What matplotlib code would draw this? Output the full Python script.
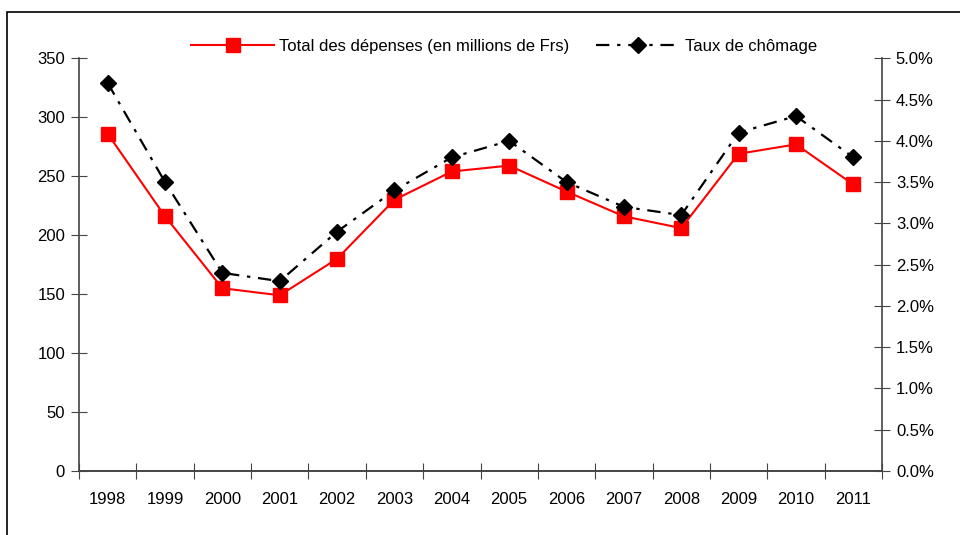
import matplotlib
matplotlib.use("Agg")
import matplotlib.pyplot as plt
from matplotlib.patches import Rectangle
from matplotlib.ticker import FuncFormatter, MultipleLocator

years = ['1998', '1999', '2000', '2001', '2002', '2003', '2004',
         '2005', '2006', '2007', '2008', '2009', '2010', '2011']
depenses = [286, 216, 155, 149, 180, 230, 254, 259, 237, 216, 206, 269, 277, 243]
chomage = [4.7, 3.5, 2.4, 2.3, 2.9, 3.4, 3.8, 4.0, 3.5, 3.2, 3.1, 4.1, 4.3, 3.8]

plt.rcParams['font.family'] = ['Liberation Sans', 'DejaVu Sans']
plt.rcParams['font.size'] = 12

fig = plt.figure(figsize=(9.6, 5.35), dpi=100)
ax = fig.add_axes([79/960, 1-471/535, 803/960, (471-58.3)/535])
ax2 = ax.twinx()

x = list(range(len(years)))
l1, = ax.plot(x, depenses, color='#ff0000', lw=1.5, marker='s', ms=10.5,
              mec='#ff0000', mfc='#ff0000', label='Total des dépenses (en millions de Frs)')
l2, = ax2.plot(x, chomage, color='black', lw=1.6, ls=(0, (6, 3.5, 1.5, 3.5)),
               marker='D', ms=8.5, label='Taux de chômage')

ax.set_xlim(-0.5, len(years) - 0.5)
ax.set_ylim(0, 350)
ax2.set_ylim(0, 5.0)
ax.yaxis.set_major_locator(MultipleLocator(50))
ax2.yaxis.set_major_locator(MultipleLocator(0.5))
ax2.yaxis.set_major_formatter(FuncFormatter(lambda v, p: '%.1f%%' % v))

# ticks between categories, labels centred on them
ax.set_xticks([i - 0.5 for i in range(len(years) + 1)])
ax.set_xticklabels([])
ax.set_xticks(x, minor=True)
ax.set_xticklabels(years, minor=True)
ax.tick_params(axis='x', which='minor', length=0, pad=15)
ax.tick_params(axis='x', which='major', direction='inout', length=12, color='#444444')
ax.tick_params(axis='y', direction='inout', length=12, color='#444444', pad=4)
ax2.tick_params(axis='y', direction='inout', length=12, color='#444444', pad=4)

for a in (ax, ax2):
    a.spines['top'].set_visible(False)
    for s in ('left', 'right', 'bottom'):
        a.spines[s].set_color('#444444')
        a.spines[s].set_linewidth(1.2)
ax.spines['right'].set_visible(False)
ax2.spines['left'].set_visible(False)

fig.legend(handles=[l1, l2], loc='center', bbox_to_anchor=(0.525, 1-46/535),
           ncol=2, frameon=False, handlelength=5, handletextpad=0.3,
           columnspacing=1.6, fontsize=12)

fig.add_artist(Rectangle((7/960, -0.1), 1.2, 1 - 12/535 + 0.1, transform=fig.transFigure,
                         fill=False, edgecolor='black', lw=1.2))

fig.savefig('out.png', dpi=100)
